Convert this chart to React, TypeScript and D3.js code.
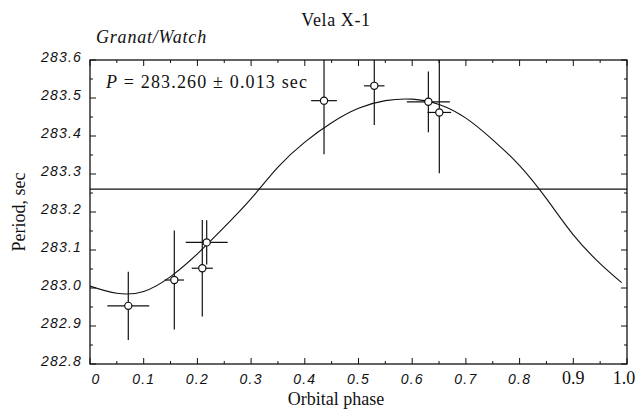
import React from "react";
import * as d3 from "d3";

// Observations (orbital phase, period) with errors
const phases = [0.0713, 0.157, 0.2091, 0.2173, 0.4358, 0.5294, 0.6301, 0.6505];
const periods = [282.953, 283.021, 283.052, 283.12, 283.493, 283.532, 283.49, 283.462];
const phaseErr = [0.039, 0.018, 0.0196, 0.039, 0.024, 0.019, 0.04, 0.022];
const periodErr = [0.09, 0.13, 0.127, 0.058, 0.141, 0.103, 0.08, 0.16];

// Model curve
const curvePhase = [0, 0.05, 0.1, 0.15, 0.2, 0.25, 0.3, 0.35, 0.4, 0.45, 0.5, 0.55, 0.6, 0.65, 0.7, 0.75, 0.8, 0.85, 0.9, 0.95, 0.99];
const curvePeriod = [283.005, 282.986, 282.991, 283.03, 283.09, 283.16, 283.235, 283.318, 283.384, 283.435, 283.473, 283.493, 283.497, 283.483, 283.447, 283.39, 283.322, 283.235, 283.14, 283.064, 283.014];

const meanPeriod = 283.26;

const xTickValues = [0, 0.1, 0.2, 0.3, 0.4, 0.5, 0.6, 0.7, 0.8, 0.9, 1.0];
const xTickLabels = ["0", "0.1", "0.2", "0.3", "0.4", "0.5", "0.6", "0.7", "0.8", "0.9", "1.0"];
const yTickValues = [282.8, 282.9, 283.0, 283.1, 283.2, 283.3, 283.4, 283.5, 283.6];
const yTickLabels = ["282.8", "282.9", "283.0", "283.1", "283.2", "283.3", "283.4", "283.5", "283.6"];

const W = 638, H = 410;
const L = 90, R = 627, T = 60, B = 364;

export default function App() {
  const x = d3.scaleLinear().domain([0, 1]).range([L, R]);
  const y = d3.scaleLinear().domain([282.8, 283.6]).range([B, T]);
  const curveData = curvePhase.map((p, i) => [p, curvePeriod[i]] as [number, number]);
  const line = d3.line<[number, number]>().x(d => x(d[0])).y(d => y(d[1])).curve(d3.curveNatural);

  const xMinor = d3.range(0.05, 1, 0.1);
  const yMinor = d3.range(282.85, 283.6, 0.1);
  const serif = "'Liberation Serif', 'Times New Roman', serif";
  const sans = "'Liberation Sans', Arial, sans-serif";

  return (
    <div style={{ position: "fixed", left: 0, top: 0 }}>
      <svg width={W} height={H} viewBox={`0 0 ${W} ${H}`} style={{ display: "block", background: "#fff" }}>
        <defs>
          <clipPath id="plot">
            <rect x={L} y={T} width={R - L} height={B - T} />
          </clipPath>
        </defs>
        {/* frame */}
        <rect x={L} y={T} width={R - L} height={B - T} fill="none" stroke="#111" strokeWidth={1.3} />
        {/* x ticks */}
        {xTickValues.map((v, i) => (
          <g key={"xt" + i}>
            <line x1={x(v)} x2={x(v)} y1={B} y2={B - 6} stroke="#111" />
            <line x1={x(v)} x2={x(v)} y1={T} y2={T + 6} stroke="#111" />
          </g>
        ))}
        {xMinor.map((v, i) => (
          <g key={"xm" + i}>
            <line x1={x(v)} x2={x(v)} y1={B} y2={B - 3} stroke="#111" />
            <line x1={x(v)} x2={x(v)} y1={T} y2={T + 3} stroke="#111" />
          </g>
        ))}
        {yTickValues.map((v, i) => (
          <g key={"yt" + i}>
            <line x1={L} x2={L + 6} y1={y(v)} y2={y(v)} stroke="#111" />
            <line x1={R} x2={R - 6} y1={y(v)} y2={y(v)} stroke="#111" />
          </g>
        ))}
        {yMinor.map((v, i) => (
          <g key={"ym" + i}>
            <line x1={L} x2={L + 3} y1={y(v)} y2={y(v)} stroke="#111" />
            <line x1={R} x2={R - 3} y1={y(v)} y2={y(v)} stroke="#111" />
          </g>
        ))}
        {/* tick labels */}
        {yTickLabels.map((t, i) => (
          <text key={"yl" + i} x={82} y={y(yTickValues[i]) + 2} textAnchor="end" fontFamily={sans} fontStyle="italic" fontSize={14} letterSpacing={1.2} fill="#111">{t}</text>
        ))}
        {xTickLabels.map((t, i) => {
          const big = i >= 9;
          return (
            <text key={"xl" + i} x={x(xTickValues[i]) + (i === 0 ? 6 : i === 10 ? -3 : 0)} y={384} textAnchor="middle"
              fontFamily={big ? serif : sans} fontStyle={big ? "normal" : "italic"} fontSize={big ? 18 : 14}
              letterSpacing={big ? 0 : 1.2} fill="#111">{t}</text>
          );
        })}
        {/* mean period line */}
        <line x1={L} x2={R} y1={y(meanPeriod)} y2={y(meanPeriod)} stroke="#111" strokeWidth={1.3} />
        {/* model curve */}
        <path d={line(curveData) || ""} fill="none" stroke="#111" strokeWidth={1.1} clipPath="url(#plot)" />
        {/* data points */}
        <g clipPath="url(#plot)">
          {phases.map((p, i) => (
            <g key={"pt" + i}>
              <line x1={x(p - phaseErr[i])} x2={x(p + phaseErr[i])} y1={y(periods[i])} y2={y(periods[i])} stroke="#111" strokeWidth={1.2} />
              <line x1={x(p)} x2={x(p)} y1={y(periods[i] - periodErr[i])} y2={y(periods[i] + periodErr[i])} stroke="#111" strokeWidth={1.2} />
            </g>
          ))}
          {phases.map((p, i) => (
            <circle key={"c" + i} cx={x(p)} cy={y(periods[i])} r={3.6} fill="#fff" stroke="#111" strokeWidth={1.2} />
          ))}
        </g>
        {/* texts */}
        <text x={336} y={26} textAnchor="middle" fontFamily={serif} fontSize={18} letterSpacing={0.6} fill="#111">Vela X-1</text>
        <text x={96} y={43} fontFamily={serif} fontStyle="italic" fontSize={18} letterSpacing={0.8} fill="#111">Granat/Watch</text>
        <text x={106} y={88} fontFamily={serif} fontSize={18} fill="#111" textLength={201} lengthAdjust="spacing">
          <tspan fontStyle="italic">P</tspan> = 283.260 ± 0.013 sec
        </text>
        <text x={336} y={405} textAnchor="middle" fontFamily={serif} fontSize={18} fill="#111">Orbital phase</text>
        <text transform={`translate(25,${(T + B) / 2}) rotate(-90)`} textAnchor="middle" fontFamily={serif} fontSize={18} fill="#111">Period, sec</text>
      </svg>
    </div>
  );
}
